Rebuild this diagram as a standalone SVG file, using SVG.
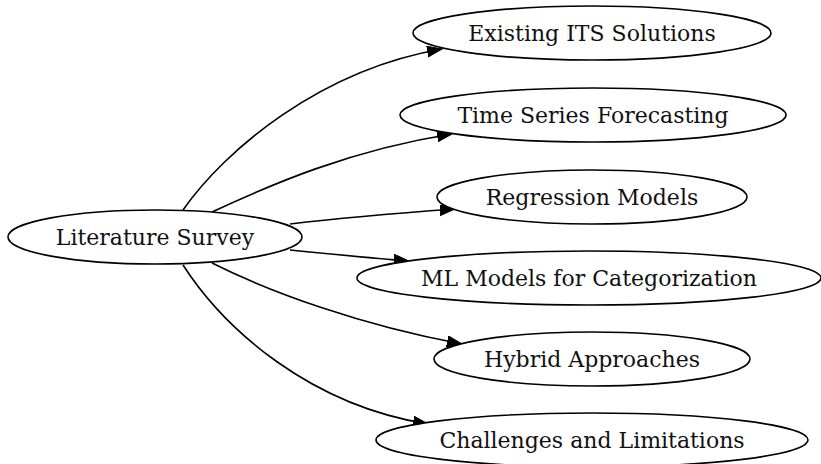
<svg xmlns="http://www.w3.org/2000/svg" width="821" height="464" viewBox="0 0 821 464">
<style>
.n ellipse{fill:#fff;stroke:#000;stroke-width:1.6}
.n text{font-family:"DejaVu Serif",serif;font-size:22px;fill:#111;text-anchor:middle}
.e path{fill:none;stroke:#000;stroke-width:1.6;marker-end:url(#ah)}
</style>
<defs>
<marker id="ah" markerUnits="userSpaceOnUse" markerWidth="16" markerHeight="12" refX="15" refY="5.5" orient="auto" viewBox="0 0 16 12">
<path d="M0,0 L15,5.5 L0,11 Z" fill="#000" stroke="#000" stroke-width="1"/>
</marker>
</defs>
<rect width="821" height="464" fill="#fff"/>
<g id="edges" class="e">
<path d="M183,210 C225,150 320,70 442,49"/>
<path d="M212,212 C270,185 350,150 452,134"/>
<path d="M290,224 C340,218 400,213 455,209"/>
<path d="M290,250 C320,253 370,258 409,261"/>
<path d="M212,263 C270,292 360,325 462,344"/>
<path d="M183,265 C225,330 310,405 428,424"/>
</g>
<g id="lit" class="n"><ellipse cx="155" cy="237" rx="147" ry="27"/><text x="155" y="245">Literature Survey</text></g>
<g id="its" class="n"><ellipse cx="592" cy="33" rx="179" ry="27"/><text x="592" y="41">Existing ITS Solutions</text></g>
<g id="tsf" class="n"><ellipse cx="593" cy="115" rx="193" ry="27"/><text x="593" y="123">Time Series Forecasting</text></g>
<g id="reg" class="n"><ellipse cx="592" cy="197" rx="155" ry="27"/><text x="592" y="205">Regression Models</text></g>
<g id="ml" class="n"><ellipse cx="589" cy="278" rx="232" ry="27"/><text x="589" y="286">ML Models for Categorization</text></g>
<g id="hyb" class="n"><ellipse cx="592" cy="359" rx="158" ry="27"/><text x="592" y="367">Hybrid Approaches</text></g>
<g id="chl" class="n"><ellipse cx="592" cy="440" rx="216" ry="27"/><text x="592" y="448">Challenges and Limitations</text></g>
</svg>
